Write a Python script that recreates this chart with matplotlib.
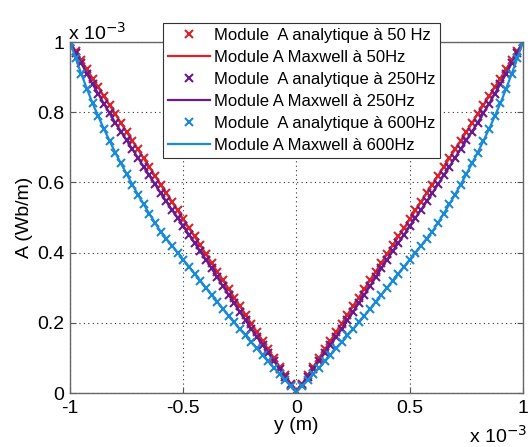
import matplotlib.pyplot as plt
import numpy as np
from matplotlib.ticker import FuncFormatter

plt.rcParams['font.family'] = ['Liberation Sans', 'DejaVu Sans']

# |y| sampling (in 1e-3 m) for one half of the slab
y_half = np.arange(0, 1.0001, 0.025)

# module of A (in 1e-3 Wb/m), from y=0 to |y|=1e-3
a_50 = [0.005, 0.026, 0.050, 0.075, 0.100, 0.124, 0.149, 0.174, 0.198, 0.223,
        0.248, 0.272, 0.297, 0.322, 0.346, 0.371, 0.396, 0.421, 0.446, 0.470,
        0.495, 0.520, 0.545, 0.570, 0.594, 0.619, 0.644, 0.669, 0.694, 0.719,
        0.744, 0.769, 0.795, 0.820, 0.845, 0.871, 0.896, 0.922, 0.948, 0.974, 1.000]
a_250 = [0.004, 0.024, 0.046, 0.069, 0.092, 0.115, 0.137, 0.160, 0.183, 0.207,
         0.231, 0.256, 0.280, 0.305, 0.330, 0.355, 0.380, 0.404, 0.428, 0.451,
         0.475, 0.499, 0.522, 0.546, 0.570, 0.595, 0.620, 0.645, 0.670, 0.695,
         0.720, 0.745, 0.770, 0.797, 0.824, 0.852, 0.880, 0.909, 0.939, 0.969, 1.000]
a_600 = [0.004, 0.020, 0.037, 0.054, 0.072, 0.090, 0.108, 0.127, 0.145, 0.164,
         0.182, 0.201, 0.220, 0.240, 0.260, 0.280, 0.300, 0.320, 0.340, 0.360,
         0.380, 0.400, 0.420, 0.440, 0.460, 0.485, 0.511, 0.538, 0.565, 0.594,
         0.624, 0.654, 0.685, 0.718, 0.752, 0.788, 0.825, 0.866, 0.909, 0.954, 1.000]

labels_ana = ['Module  A analytique à 50 Hz', 'Module  A analytique à 250Hz',
              'Module  A analytique à 600Hz']
labels_max = ['Module A Maxwell à 50Hz', 'Module A Maxwell à 250Hz',
              'Module A Maxwell à 600Hz']
colors = ['#d9232a', '#6a1a8c', '#1b8ad6']


def full(half):
    half = np.asarray(half)
    return np.concatenate([half[::-1], half[1:]])


y = np.concatenate([-y_half[::-1], y_half[1:]]) * 1e-3

fig = plt.figure(figsize=(5.28, 4.47), dpi=100)
ax = fig.add_axes([0.1326, 0.1208, 0.8579, 0.7852])

for half, la, lm, c in zip([a_50, a_250, a_600], labels_ana, labels_max, colors):
    a = full(half) * 1e-3
    ax.plot(y, a, 'x', color=c, ms=5.5, mew=1.5, label=la)
    ax.plot(y, a, '-', color=c, lw=1.6, label=lm)

ax.set_xlim(-1e-3, 1e-3)
ax.set_ylim(0, 1e-3)
ax.set_xticks(np.array([-1, -0.5, 0, 0.5, 1]) * 1e-3)
ax.set_yticks(np.array([0, 0.2, 0.4, 0.6, 0.8, 1]) * 1e-3)
fmt = FuncFormatter(lambda v, p: ('%g' % round(v * 1e3, 3)))
ax.xaxis.set_major_formatter(fmt)
ax.yaxis.set_major_formatter(fmt)
ax.grid(True, linestyle=(0, (1, 3)), color='#333333', lw=0.8)
ax.tick_params(direction='in', top=True, right=True, labelsize=14, length=4,
               color='#555555')
ax.tick_params(axis='x', pad=5)
ax.tick_params(axis='y', pad=4)
for s in ax.spines.values():
    s.set_color('#666666')
    s.set_linewidth(1.0)

ax.set_xlabel('y (m)', fontsize=14, labelpad=0)
ax.set_ylabel('A (Wb/m)', fontsize=14, labelpad=3)

fig.text(0.128, 0.912, 'x 10$^{-3}$', fontsize=14)
fig.text(0.888, 0.01, 'x 10$^{-3}$', fontsize=14)

leg = ax.legend(loc='upper left', bbox_to_anchor=(0.3087, 0.9485),
                bbox_transform=fig.transFigure, fontsize=12, numpoints=1,
                handlelength=2.5, handletextpad=0.25, labelspacing=0.42,
                borderpad=0.3, fancybox=False, framealpha=1, borderaxespad=0)
leg.get_frame().set_edgecolor('#333333')
leg.get_frame().set_linewidth(0.8)

fig.savefig('out.png', dpi=100)
